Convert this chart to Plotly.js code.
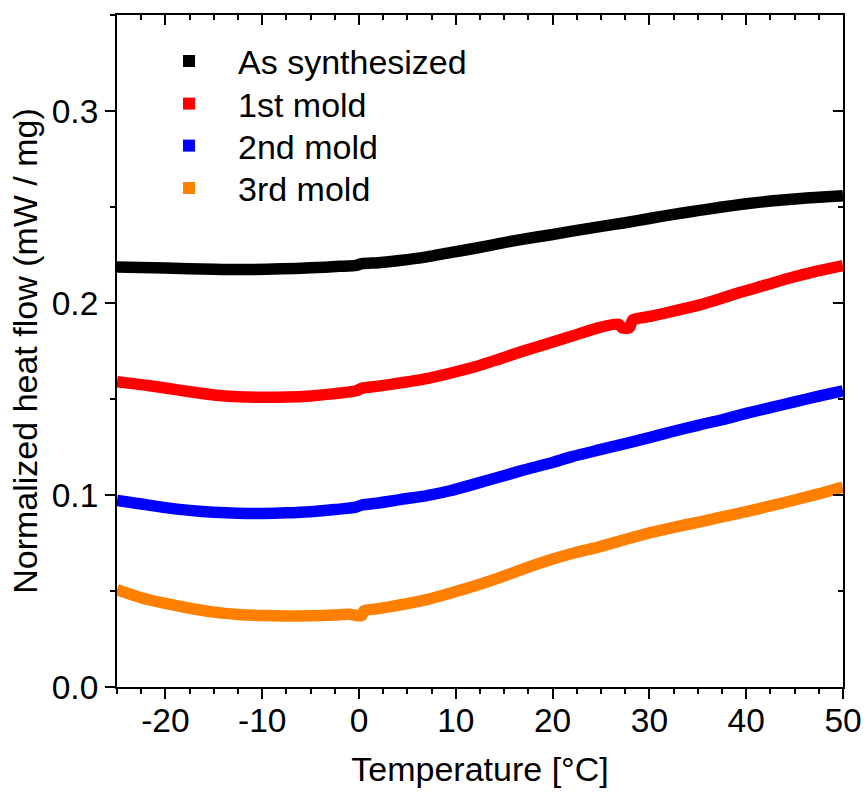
<!DOCTYPE html>
<html>
<head>
<meta charset="utf-8">
<script src="https://cdn.plot.ly/plotly-3.0.1.min.js"></script>
<style>html,body{margin:0;padding:0;background:#fff;}#chart{width:864px;height:794px;}</style>
</head>
<body>
<div id="chart"></div>
<script>
// ---- data ----
const seriesNames = ["As synthesized", "1st mold", "2nd mold", "3rd mold"];
const seriesColors = ["#000000", "#ff0000", "#0000ff", "#ff8000"];

const tempAs = [-25, -20, -15, -12, -8, -5, -2, -0.3, 0.3, 2, 4.2, 7, 9.4, 12, 14.6, 17, 19.7, 22, 24.9, 27.5, 30, 32.5, 35, 37.5, 40, 42.5, 45, 47.5, 50];
const flowAs = [0.2188, 0.2182, 0.2176, 0.2174, 0.2178, 0.2183, 0.2191, 0.2196, 0.2205, 0.2210, 0.2221, 0.2240, 0.2262, 0.2285, 0.2311, 0.2333, 0.2354, 0.2374, 0.2398, 0.2418, 0.2440, 0.2462, 0.2481, 0.2500, 0.2517, 0.2531, 0.2542, 0.2551, 0.2559];

const temp1 = [-25, -22.5, -20, -17.5, -15, -12.5, -10, -7.5, -5, -2.5, -0.3, 0.3, 2, 4.2, 7, 9.4, 12, 14.6, 17, 19.7, 22, 24.9, 26.8, 27.2, 27.9, 28.3, 30.1, 32.5, 35.2, 37.5, 39.4, 42, 44.5, 47, 50];
const flow1 = [0.1590, 0.1575, 0.1557, 0.1538, 0.1521, 0.1512, 0.1509, 0.1510, 0.1516, 0.1528, 0.1543, 0.1556, 0.1567, 0.1583, 0.1606, 0.1634, 0.1668, 0.1710, 0.1750, 0.1792, 0.1828, 0.1873, 0.1890, 0.1870, 0.1870, 0.1912, 0.1930, 0.1958, 0.1990, 0.2025, 0.2056, 0.2093, 0.2130, 0.2162, 0.2194];

const temp2 = [-25, -22.5, -20, -17.5, -15, -12.5, -10, -7.5, -5, -2.5, -0.3, 0.3, 2, 4.2, 7, 9.4, 12, 14.6, 17, 19.7, 22, 24.9, 27.5, 30, 32.5, 35, 37.5, 40, 42.5, 45, 47.5, 50];
const flow2 = [0.0972, 0.0953, 0.0934, 0.0920, 0.0910, 0.0905, 0.0904, 0.0907, 0.0913, 0.0924, 0.0937, 0.0948, 0.0958, 0.0976, 0.0997, 0.1022, 0.1058, 0.1095, 0.1130, 0.1165, 0.1200, 0.1236, 0.1268, 0.1299, 0.1332, 0.1363, 0.1392, 0.1425, 0.1455, 0.1485, 0.1515, 0.1543];

const temp3 = [-25, -22.5, -20, -17.5, -15, -12.5, -10, -7.5, -5, -2.5, -1, -0.3, 0.3, 0.5, 2, 4.2, 7, 9.4, 12, 14.6, 17, 19.7, 22, 24.9, 27.5, 30, 32.5, 35, 37.5, 40, 42.5, 45, 47.5, 50];
const flow3 = [0.0507, 0.0465, 0.0435, 0.0410, 0.0390, 0.0378, 0.0372, 0.0370, 0.0371, 0.0375, 0.0379, 0.0372, 0.0373, 0.0397, 0.0408, 0.0427, 0.0455, 0.0488, 0.0527, 0.0571, 0.0615, 0.0661, 0.0695, 0.0731, 0.0768, 0.0803, 0.0832, 0.0858, 0.0886, 0.0913, 0.0943, 0.0974, 0.1006, 0.1042];

const xTickVals = [-20, -10, 0, 10, 20, 30, 40, 50];
const xTickText = ["-20", "-10", "0", "10", "20", "30", "40", "50"];
const yTickVals = [0.0, 0.1, 0.2, 0.3];
const yTickText = ["0.0", "0.1", "0.2", "0.3"];

// ---- chart ----
const FONT = "Liberation Sans, Arial, sans-serif";
const xs = [tempAs, temp1, temp2, temp3];
const ys = [flowAs, flow1, flow2, flow3];
const legendIds = ["legend", "legend2", "legend3", "legend4"];

const traces = [];
for (let i = 0; i < 4; i++) {
  traces.push({
    type: "scatter", mode: "lines", x: xs[i], y: ys[i],
    line: {color: seriesColors[i], width: 11.5, shape: "spline", smoothing: 0.6},
    showlegend: false, hoverinfo: "skip"
  });
}
// legend entries (square symbols, as in the reference), one legend box per row
for (let i = 0; i < 4; i++) {
  traces.push({
    type: "scatter", mode: "markers", x: [null], y: [null],
    name: seriesNames[i], legend: legendIds[i],
    marker: {symbol: "square", size: 12, color: seriesColors[i]},
    showlegend: true
  });
}
// carrier for the mirrored top/right axes
traces.push({type: "scatter", mode: "markers", x: [null], y: [null], xaxis: "x2", yaxis: "y2", showlegend: false, hoverinfo: "skip"});

const baseAxis = {
  showgrid: false, zeroline: false, showline: true, linecolor: "#000", linewidth: 2,
  tickcolor: "#000", tickwidth: 2, ticklen: 10,
  tickfont: {family: FONT, size: 33.5, color: "#000"}
};

const legendRowsY = [61.5, 104, 146, 188.5];
const legendBase = {
  x: 0.0317, xanchor: "left", yanchor: "middle",
  bgcolor: "rgba(0,0,0,0)", borderwidth: 0,
  font: {family: FONT, size: 34, color: "#000"},
  itemwidth: 88
};

const layout = {
  width: 864, height: 794,
  margin: {l: 117, r: 21, t: 15, b: 107},
  paper_bgcolor: "#fff", plot_bgcolor: "#fff",
  font: {family: FONT, color: "#000"},
  xaxis: Object.assign({}, baseAxis, {
    range: [-25, 50], tickvals: xTickVals, ticktext: xTickText, ticks: "outside",
    ticklabelstandoff: -7,
    minor: {dtick: 2.5, tick0: 0, ticklen: 5, tickwidth: 2, tickcolor: "#000", ticks: "outside"},
    title: {text: "Temperature [°C]", font: {family: FONT, size: 34, color: "#000"}, standoff: 19}
  }),
  yaxis: Object.assign({}, baseAxis, {
    range: [0, 0.35], tickvals: yTickVals, ticktext: yTickText, ticks: "outside",
    minor: {dtick: 0.05, tick0: 0, ticklen: 5, tickwidth: 2, tickcolor: "#000", ticks: "outside"},
    title: {text: "Normalized heat flow (mW / mg)", font: {family: FONT, size: 34, color: "#000"}, standoff: 4}
  }),
  xaxis2: Object.assign({}, baseAxis, {
    overlaying: "x", matches: "x", side: "top", anchor: "y2", range: [-25, 50],
    tickvals: xTickVals, ticks: "inside", showticklabels: false,
    minor: {dtick: 2.5, tick0: 0, ticklen: 5, tickwidth: 2, tickcolor: "#000", ticks: "inside"}
  }),
  yaxis2: Object.assign({}, baseAxis, {
    overlaying: "y", matches: "y", side: "right", anchor: "x2", range: [0, 0.35],
    tickvals: yTickVals, ticks: "inside", showticklabels: false,
    minor: {dtick: 0.05, tick0: 0, ticklen: 5, tickwidth: 2, tickcolor: "#000", ticks: "inside"}
  }),
  showlegend: true
};
for (let i = 0; i < 4; i++) {
  layout[legendIds[i]] = Object.assign({}, legendBase, {y: (687 - legendRowsY[i]) / 672});
}

Plotly.newPlot("chart", traces, layout, {displayModeBar: false, staticPlot: true});
</script>
</body>
</html>
